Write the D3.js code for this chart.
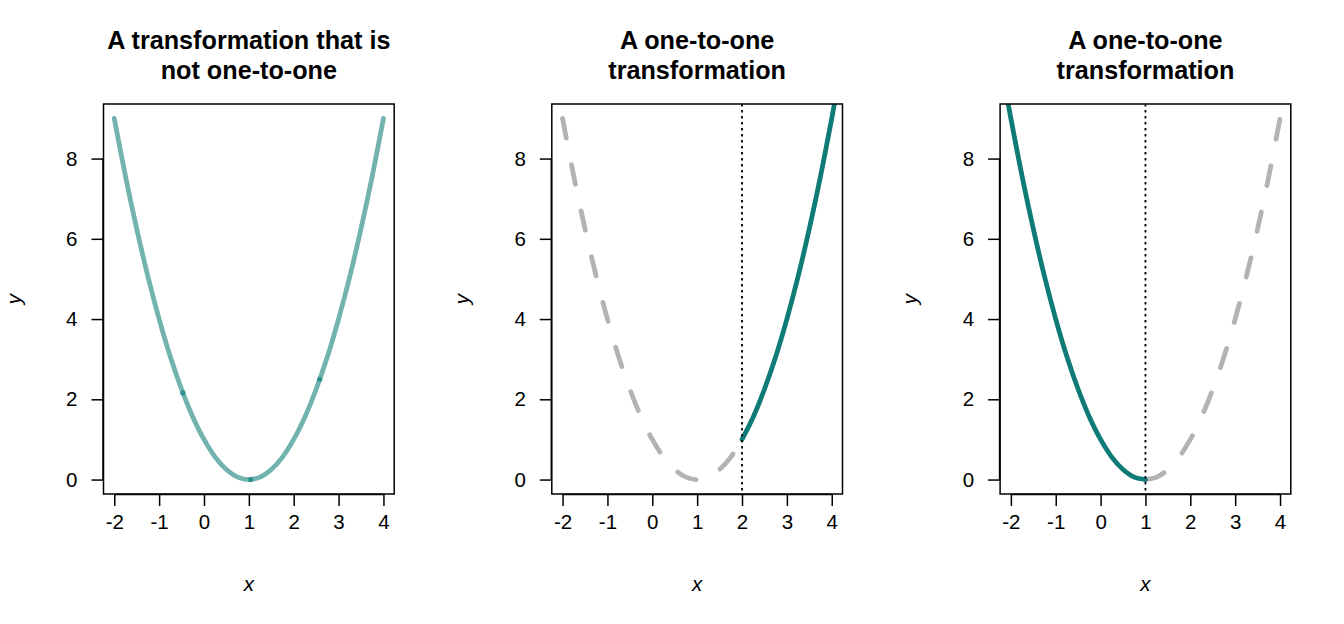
<!DOCTYPE html>
<html>
<head>
<meta charset="utf-8">
<script src="https://cdn.jsdelivr.net/npm/d3@7"></script>
<style>
  html, body { margin: 0; padding: 0; background: #fff; }
  svg { display: block; font-family: "Liberation Sans", Arial, sans-serif; }
</style>
</head>
<body>
<svg id="chart" width="1344" height="624"></svg>
<script>
// ---- data ----
const titles = [
  ["A transformation that is", "not one-to-one"],
  ["A one-to-one", "transformation"],
  ["A one-to-one", "transformation"]
];
const xTicks = [-2, -1, 0, 1, 2, 3, 4];
const yTicks = [0, 2, 4, 6, 8];

// full curve (panel 1, and grey parts)
const curveX = [-2, -1.75, -1.5, -1.25, -1, -0.75, -0.5, -0.25, 0, 0.25, 0.5, 0.75, 1,
                1.25, 1.5, 1.75, 2, 2.25, 2.5, 2.75, 3, 3.25, 3.5, 3.75, 4];
const curveY = [9, 7.56, 6.25, 5.06, 4, 3.06, 2.25, 1.56, 1, 0.56, 0.25, 0.06, 0,
                0.06, 0.25, 0.56, 1, 1.56, 2.25, 3.06, 4, 5.06, 6.25, 7.56, 9];

// panel 2: solid right branch (x >= 2), runs past the top of the box
const rightX = [2, 2.25, 2.5, 2.75, 3, 3.25, 3.5, 3.75, 4, 4.1];
const rightY = [1, 1.56, 2.25, 3.06, 4, 5.06, 6.25, 7.56, 9, 9.61];
// panel 2: dashed grey part (x <= 2)
const leftGreyX = curveX.slice(0, 17);
const leftGreyY = curveY.slice(0, 17);

// panel 3: solid left branch (x <= 1), starts above the top of the box
const leftX = [-2.1, -2, -1.75, -1.5, -1.25, -1, -0.75, -0.5, -0.25, 0, 0.25, 0.5, 0.75, 1];
const leftY = [9.61, 9, 7.56, 6.25, 5.06, 4, 3.06, 2.25, 1.56, 1, 0.56, 0.25, 0.06, 0];
// panel 3: dashed grey part (x >= 1)
const rightGreyX = curveX.slice(12);
const rightGreyY = curveY.slice(12);

// darker overlap spots on panel 1's curve
const spotX = [-0.47, 1.04, 2.58];
const spotY = [2.16, 0, 2.50];

// vertical reference lines
const vlineX = [null, 2, 1];

// ---- drawing ----
const colLight = "#72b3b0";
const colSpot = "#2f948f";
const colDark = "#0f7b76";
const colGrey = "#b3b3b3";

const svg = d3.select("#chart");
const panelLeft = [103.5, 551.8, 1000.1];
const panelW = 290.7;
const plotTop = 104, plotBottom = 494;
const tickFont = 20.5, titleFont = 25.2;

const y = d3.scaleLinear().domain([-0.36, 9.36]).range([plotBottom, plotTop]);

function pts(xs, ys) { return xs.map((v, i) => [v, ys[i]]); }

panelLeft.forEach((L, p) => {
  const x = d3.scaleLinear().domain([-2.24, 4.24]).range([L, L + panelW]);
  const g = svg.append("g");
  const cid = "clip" + p;
  svg.append("clipPath").attr("id", cid).append("rect")
    .attr("x", L).attr("y", plotTop).attr("width", panelW).attr("height", plotBottom - plotTop);

  const line = d3.line().x(d => x(d[0])).y(d => y(d[1])).curve(d3.curveCatmullRom.alpha(0.5));
  const plot = g.append("g").attr("clip-path", `url(#${cid})`);

  if (p === 0) {
    plot.append("path").attr("d", line(pts(curveX, curveY)))
      .attr("fill", "none").attr("stroke", colLight).attr("stroke-width", 4.8)
      .attr("stroke-linecap", "round").attr("stroke-linejoin", "round");
    plot.selectAll("circle.spot").data(pts(spotX, spotY)).enter().append("circle")
      .attr("cx", d => x(d[0])).attr("cy", d => y(d[1])).attr("r", 2.6)
      .attr("fill", colSpot);
  } else {
    const gx = p === 1 ? leftGreyX : rightGreyX;
    const gy = p === 1 ? leftGreyY : rightGreyY;
    plot.append("path").attr("d", line(pts(gx, gy)))
      .attr("fill", "none").attr("stroke", colGrey).attr("stroke-width", 4.8)
      .attr("stroke-linecap", "round").attr("stroke-linejoin", "round")
      .attr("stroke-dasharray", "20,27");
    const sx = p === 1 ? rightX : leftX;
    const sy = p === 1 ? rightY : leftY;
    plot.append("path").attr("d", line(pts(sx, sy)))
      .attr("fill", "none").attr("stroke", colDark).attr("stroke-width", 4.8)
      .attr("stroke-linecap", "round").attr("stroke-linejoin", "round");
    plot.append("line")
      .attr("x1", x(vlineX[p])).attr("x2", x(vlineX[p]))
      .attr("y1", plotTop).attr("y2", plotBottom)
      .attr("stroke", "#000").attr("stroke-width", 1.8)
      .attr("stroke-dasharray", "2.5,3.5");
  }

  // box
  g.append("rect").attr("x", L).attr("y", plotTop).attr("width", panelW).attr("height", plotBottom - plotTop)
    .attr("fill", "none").attr("stroke", "#000").attr("stroke-width", 1.5);

  // x axis
  const xAxis = d3.axisBottom(x).tickValues(xTicks).tickSize(12).tickPadding(8)
    .tickFormat(d3.format("d"));
  const xa = g.append("g").attr("transform", `translate(0,${plotBottom})`).call(xAxis);
  xa.select(".domain").attr("d", `M${x(-2)},0.5H${x(4)}`).attr("stroke-width", 1.5);
  xa.selectAll(".tick line").attr("stroke-width", 1.5);
  xa.selectAll(".tick text").attr("font-size", tickFont).attr("font-family", "Liberation Sans, Arial, sans-serif")
    .attr("fill", "#000").text(d => d < 0 ? "-" + Math.abs(d) : d);

  // y axis
  const yAxis = d3.axisLeft(y).tickValues(yTicks).tickSize(12).tickPadding(14)
    .tickFormat(d3.format("d"));
  const ya = g.append("g").attr("transform", `translate(${L},0)`).call(yAxis);
  ya.select(".domain").attr("d", `M-0.5,${y(0)}V${y(8)}`).attr("stroke-width", 1.5);
  ya.selectAll(".tick line").attr("stroke-width", 1.5);
  ya.selectAll(".tick text").attr("font-size", tickFont).attr("font-family", "Liberation Sans, Arial, sans-serif")
    .attr("fill", "#000");

  // titles
  const cx = L + panelW / 2;
  titles[p].forEach((t, i) => {
    g.append("text").attr("x", cx).attr("y", 49 + i * 30)
      .attr("text-anchor", "middle").attr("font-weight", "bold").attr("font-size", titleFont)
      .text(t);
  });

  // axis labels
  g.append("text").attr("x", cx).attr("y", 591).attr("text-anchor", "middle")
    .attr("font-style", "italic").attr("font-size", tickFont).text("x");
  g.append("text").attr("transform", `translate(${L - 83},${(plotTop + plotBottom) / 2}) rotate(-90)`)
    .attr("text-anchor", "middle").attr("font-style", "italic").attr("font-size", tickFont).text("y");
});
</script>
</body>
</html>
